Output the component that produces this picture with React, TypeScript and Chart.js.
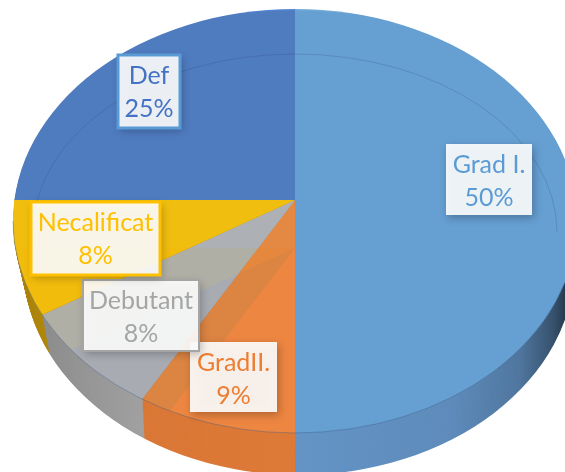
import React, { useEffect, useRef } from "react";
import { Chart, registerables } from "chart.js";

Chart.register(...registerables);

const categories = ["Grad I.", "GradII.", "Debutant", "Necalificat", "Def"];
const values = [50, 9, 8, 8, 25];
const percentLabels = ["50%", "9%", "8%", "8%", "25%"];
const faceColors = ["rgb(115,170,217)", "rgb(240,147,75)", "rgb(183,191,203)", "rgb(253,205,15)", "rgb(83,132,213)"];
const tintColors = ["rgb(115,170,217)", "rgb(240,147,75)", "rgb(150,125,100)", "rgb(200,150,20)", "rgb(190,165,125)"];
const sideColors = ["rgb(100,148,198)", "rgb(222,122,56)", "rgb(165,165,165)", "rgb(205,158,16)", "rgb(70,110,170)"];
const textColors = ["#5B9BD5", "#ED7D31", "#A5A5A5", "#FFC000", "#4472C4"];
const borderWidths = [0, 0, 2, 3, 3];
const boxes = [
  [446, 144, 86, 71],
  [190, 342, 87, 70],
  [83, 280, 116, 71],
  [31, 202, 129, 73],
  [118, 55, 62, 73],
];

const APEX = { x: 295, y: 200 };
const TOP = { cx: 295, cy: 221, rx: 282, ry: 212 };
const BOTTOM = { cx: 299, cy: 263, rx: 276, ry: 212 };
const DEPTH = 42;
const FONT = '25px Lato, "Open Sans", sans-serif';

function solidOptions(color: string) {
  return {
    backgroundColor: color,
    borderColor: "transparent",
    borderWidth: 0,
    borderAlign: "center",
    borderRadius: 0,
    offset: 0,
    spacing: 0,
    circular: true,
    selfJoin: false,
    borderDash: [],
    borderDashOffset: 0,
    borderJoinStyle: "round",
  };
}

function drawWedges(
  ctx: CanvasRenderingContext2D,
  arcs: any[],
  colors: string[],
  dy: number,
  ell: { cx: number; cy: number; rx: number; ry: number },
  overlap = 0.5
) {
  const half = (sign: number, ry: number) => {
    ctx.save();
    ctx.beginPath();
    ctx.ellipse(ell.cx, ell.cy, ell.rx, ell.ry, 0, 0, Math.PI * 2);
    ctx.clip();
    ctx.beginPath();
    if (sign < 0) ctx.rect(-50, -50, 700, APEX.y + dy + 50 + overlap);
    else ctx.rect(-50, APEX.y + dy - overlap, 700, 700);
    ctx.clip();
    arcs.forEach((arc, i) => {
      const R = arc.outerRadius;
      const saved = arc.options;
      arc.options = solidOptions(colors[i]);
      ctx.save();
      ctx.translate(APEX.x, APEX.y + dy);
      ctx.scale((1.25 * 282) / R, (1.25 * ry) / R);
      ctx.translate(-arc.x, -arc.y);
      arc.draw(ctx);
      ctx.restore();
      arc.options = saved;
    });
    ctx.restore();
  };
  half(-1, 190);
  half(1, 233);
}

const piePlugin = {
  id: "tiltedPie",
  beforeDatasetDraw(chart: any) {
    const ctx: CanvasRenderingContext2D = chart.ctx;
    const arcs = chart.getDatasetMeta(0).data;

    // wall
    for (let d = DEPTH; d >= 1; d--) {
      const t = d / DEPTH;
      drawWedges(ctx, arcs, sideColors, d, {
        cx: TOP.cx + (BOTTOM.cx - TOP.cx) * t,
        cy: TOP.cy + (BOTTOM.cy - TOP.cy) * t,
        rx: TOP.rx + (BOTTOM.rx - TOP.rx) * t,
        ry: TOP.ry,
      });
    }
    ctx.save();
    ctx.globalCompositeOperation = "source-atop";
    const g = ctx.createLinearGradient(0, 0, 565, 0);
    g.addColorStop(0, "rgba(0,0,0,0.2)");
    g.addColorStop(0.26, "rgba(0,0,0,0.02)");
    g.addColorStop(0.53, "rgba(0,0,0,0)");
    g.addColorStop(0.8, "rgba(0,0,0,0.06)");
    g.addColorStop(0.92, "rgba(0,0,0,0.2)");
    g.addColorStop(0.98, "rgba(0,0,0,0.45)");
    g.addColorStop(1, "rgba(0,0,0,0.6)");
    ctx.fillStyle = g;
    ctx.fillRect(0, 0, 565, 472);
    ctx.restore();

    // top face
    drawWedges(ctx, arcs, faceColors, 0, TOP);

    // translucent floor seen through the top face
    ctx.save();
    ctx.beginPath();
    ctx.ellipse(TOP.cx, TOP.cy, TOP.rx, TOP.ry, 0, 0, Math.PI * 2);
    ctx.clip();
    ctx.globalCompositeOperation = "multiply";
    ctx.globalAlpha = 0.2;
    drawWedges(ctx, arcs, tintColors, 48, { cx: 295, cy: 240, rx: 400, ry: 400 }, 0);
    ctx.restore();

    // rim lines
    ctx.save();
    ctx.strokeStyle = "rgba(40,70,120,0.22)";
    ctx.lineWidth = 1;
    ctx.beginPath();
    ctx.ellipse(295, 232, 262, 178, 0, Math.PI, Math.PI * 2);
    ctx.stroke();
    ctx.strokeStyle = "rgba(60,90,130,0.4)";
    ctx.beginPath();
    ctx.ellipse(TOP.cx, TOP.cy, TOP.rx, TOP.ry, 0, 0, Math.PI);
    ctx.stroke();
    ctx.restore();
    return false;
  },
  afterDraw(chart: any) {
    const ctx: CanvasRenderingContext2D = chart.ctx;
    const order = [0, 1, 2, 3, 4];
    order.forEach((i) => {
      const [x, y, w, h] = boxes[i];
      ctx.save();
      ctx.shadowColor = "rgba(0,0,0,0.28)";
      ctx.shadowBlur = 8;
      ctx.shadowOffsetX = 2;
      ctx.shadowOffsetY = 3;
      ctx.fillStyle = "rgba(255,255,255,0.9)";
      ctx.fillRect(x, y, w, h);
      ctx.restore();
      if (borderWidths[i]) {
        ctx.strokeStyle = i === 4 ? "#5B9BD5" : textColors[i];
        ctx.lineWidth = borderWidths[i];
        ctx.strokeRect(x, y, w, h);
      }
      ctx.fillStyle = textColors[i];
      ctx.font = FONT;
      ctx.textAlign = "center";
      ctx.textBaseline = "middle";
      const c = x + w / 2;
      ctx.fillText(categories[i], c, y + 21);
      ctx.fillText(percentLabels[i], c, y + 54);
    });
  },
};

export default function App() {
  const ref = useRef<HTMLCanvasElement>(null);
  useEffect(() => {
    document.body.style.margin = "0";
    document.body.style.background = "#fff";
    const chart = new Chart(ref.current!, {
      type: "pie",
      data: {
        labels: categories,
        datasets: [{ data: values, backgroundColor: faceColors, borderWidth: 0 }],
      },
      options: {
        responsive: false,
        animation: false,
        layout: { padding: 0 },
        plugins: { legend: { display: false }, tooltip: { enabled: false } },
      },
      plugins: [piePlugin],
    } as any);
    return () => chart.destroy();
  }, []);
  return <canvas ref={ref} width={565} height={472} style={{ display: "block" }} />;
}
